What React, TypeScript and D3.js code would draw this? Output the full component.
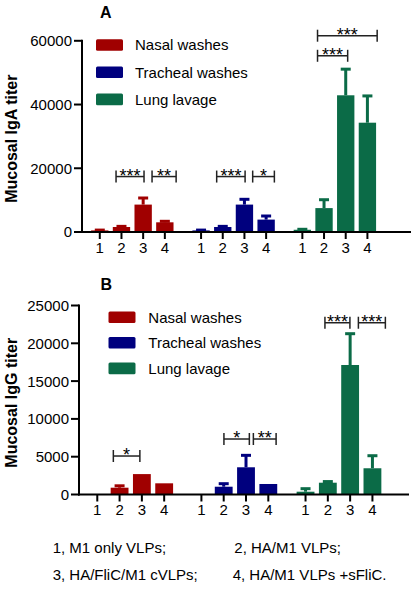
import React from "react";
import * as d3 from "d3";

const seriesNames = ["Nasal washes", "Tracheal washes", "Lung lavage"];
const seriesColors = ["#A00000", "#00007E", "#0B6B47"];
const treatments = ["1", "2", "3", "4"];

// IgA titers (mean) and upper SEM
const igaNasal = [500, 1570, 8600, 3040];
const igaNasalErr = [100, 200, 2070, 320];
const igaTracheal = [500, 1570, 8600, 3890];
const igaTrachealErr = [100, 200, 1660, 1130];
const igaLung = [700, 7500, 42900, 34300];
const igaLungErr = [150, 2630, 8200, 8400];

// IgG titers (mean) and upper SEM
const iggNasal = [0, 900, 2700, 1480];
const iggNasalErr = [0, 250, 0, 0];
const iggTracheal = [0, 1030, 3600, 1390];
const iggTrachealErr = [0, 400, 1580, 0];
const iggLung = [370, 1560, 17130, 3470];
const iggLungErr = [400, 150, 4140, 1660];

const igaTicks = [0, 20000, 40000, 60000];
const iggTicks = [0, 5000, 10000, 15000, 20000, 25000];

type Bracket = { g: number; from: number; to: number; y: number; label: string };
const igaBrackets: Bracket[] = [
  { g: 0, from: 0.75, to: 2.04, y: 17400, label: "***" },
  { g: 0, from: 2.41, to: 3.52, y: 17400, label: "**" },
  { g: 1, from: 0.72, to: 2.03, y: 17400, label: "***" },
  { g: 1, from: 2.38, to: 3.38, y: 17400, label: "*" },
  { g: 2, from: 0.7, to: 2.09, y: 55300, label: "***" },
  { g: 2, from: 0.7, to: 3.45, y: 61600, label: "***" },
];
const iggBrackets: Bracket[] = [
  { g: 0, from: 0.72, to: 1.91, y: 5090, label: "*" },
  { g: 1, from: 1.01, to: 2.15, y: 7340, label: "*" },
  { g: 1, from: 2.33, to: 3.35, y: 7340, label: "**" },
  { g: 2, from: 0.87, to: 1.99, y: 22720, label: "***" },
  { g: 2, from: 2.37, to: 3.58, y: 22720, label: "***" },
];

const footnotes = [
  "1, M1 only VLPs;",
  "2, HA/M1 VLPs;",
  "3, HA/FliC/M1 cVLPs;",
  "4, HA/M1 VLPs +sFliC.",
];

const FONT = "'Liberation Sans', Arial, Helvetica, sans-serif";
const GROUP_STRIDE = 4.67;

type PanelProps = {
  title: string;
  yLabel: string;
  values: number[][];
  errors: number[][];
  ticks: number[];
  brackets: Bracket[];
  yDomainMax: number;
  yRange: [number, number];
  xDomain: [number, number];
  xRange: [number, number];
  titlePos: [number, number];
  yLabelPos: [number, number];
  legend: { x: number; textX: number; y0: number; step: number };
};

function Panel(p: PanelProps) {
  const y = d3.scaleLinear().domain([0, p.yDomainMax]).range(p.yRange);
  const x = d3.scaleLinear().domain(p.xDomain).range(p.xRange);
  const slotW = x(1) - x(0);
  const barW = slotW * 0.8;
  const axisX = p.xRange[0];
  const axisY = p.yRange[0];
  const pos = (g: number, i: number) => x(g * GROUP_STRIDE + i);

  return (
    <g>
      <text x={p.titlePos[0]} y={p.titlePos[1]} fontFamily={FONT} fontWeight="bold" fontSize={16}>
        {p.title}
      </text>
      <text
        transform={`translate(${p.yLabelPos[0]},${p.yLabelPos[1]}) rotate(-90)`}
        textAnchor="middle"
        fontFamily={FONT}
        fontWeight="bold"
        fontSize={16}
      >
        {p.yLabel}
      </text>

      {/* bars */}
      {p.values.map((series, g) =>
        series.map((v, i) => {
          if (v <= 0) return null;
          const cx = pos(g, i);
          return (
            <rect
              key={`b${g}-${i}`}
              x={cx - barW / 2}
              y={y(v)}
              width={barW}
              height={axisY - y(v)}
              fill={seriesColors[g]}
            />
          );
        })
      )}
      {/* error bars */}
      {p.values.map((series, g) =>
        series.map((v, i) => {
          const e = p.errors[g][i];
          if (v <= 0 || e <= 0) return null;
          const cx = pos(g, i);
          return (
            <g key={`e${g}-${i}`} stroke={seriesColors[g]} strokeWidth={3}>
              <line x1={cx} x2={cx} y1={y(v)} y2={y(v + e)} />
              <line x1={cx - 5} x2={cx + 5} y1={y(v + e)} y2={y(v + e)} />
            </g>
          );
        })
      )}

      {/* axes */}
      <line x1={axisX} x2={axisX} y1={axisY + 1} y2={p.yRange[1] - 1} stroke="#000" strokeWidth={2} />
      <line x1={axisX - 1} x2={p.xRange[1]} y1={axisY} y2={axisY} stroke="#000" strokeWidth={2} />
      {p.ticks.map((t) => (
        <g key={`yt${t}`}>
          <line x1={axisX - 8} x2={axisX} y1={y(t)} y2={y(t)} stroke="#000" strokeWidth={2} />
          <text
            x={axisX - 10}
            y={y(t)}
            dy="0.36em"
            textAnchor="end"
            fontFamily={FONT}
            fontSize={15}
          >
            {t}
          </text>
        </g>
      ))}
      {p.values.map((series, g) =>
        treatments.map((lab, i) => (
          <g key={`xt${g}-${i}`}>
            <line x1={pos(g, i)} x2={pos(g, i)} y1={axisY} y2={axisY + 7} stroke="#000" strokeWidth={2} />
            <text
              x={pos(g, i)}
              y={axisY + 20.5}
              textAnchor="middle"
              fontFamily={FONT}
              fontSize={15}
            >
              {lab}
            </text>
          </g>
        ))
      )}

      {/* significance brackets */}
      {p.brackets.map((b, k) => {
        const x1 = x(b.g * GROUP_STRIDE + b.from);
        const x2 = x(b.g * GROUP_STRIDE + b.to);
        const yy = y(b.y);
        return (
          <g key={`br${k}`}>
            <g stroke="#222" strokeWidth={1.5}>
              <line x1={x1} x2={x2} y1={yy} y2={yy} />
              <line x1={x1} x2={x1} y1={yy - 6} y2={yy + 6} />
              <line x1={x2} x2={x2} y1={yy - 6} y2={yy + 6} />
            </g>
            <text
              x={(x1 + x2) / 2}
              y={yy + 5}
              textAnchor="middle"
              fontFamily={FONT}
              fontSize={18}
            >
              {b.label}
            </text>
          </g>
        );
      })}

      {/* legend */}
      {seriesNames.map((name, g) => {
        const cy = p.legend.y0 + g * p.legend.step;
        return (
          <g key={`lg${g}`}>
            <rect
              x={p.legend.x}
              y={cy - 5.8}
              width={27}
              height={11.6}
              rx={1.5}
              fill={seriesColors[g]}
            />
            <text
              x={p.legend.textX}
              y={cy}
              dy="0.36em"
              fontFamily={FONT}
              fontSize={15}
            >
              {name}
            </text>
          </g>
        );
      })}
    </g>
  );
}

export default function App() {
  return (
    <svg
      width={413}
      height={591}
      style={{ position: "absolute", left: 0, top: 0, background: "#fff" }}
    >
      <rect width={413} height={591} fill="#fff" />
      <Panel
        title="A"
        yLabel="Mucosal IgA titer"
        values={[igaNasal, igaTracheal, igaLung]}
        errors={[igaNasalErr, igaTrachealErr, igaLungErr]}
        ticks={igaTicks}
        brackets={igaBrackets}
        yDomainMax={60000}
        yRange={[232, 40.8]}
        xDomain={[-0.82, 14.35]}
        xRange={[82, 411]}
        titlePos={[100, 17.5]}
        yLabelPos={[17, 138.7]}
        legend={{ x: 96, textX: 135, y0: 45, step: 27.2 }}
      />
      <Panel
        title="B"
        yLabel="Mucosal IgG titer"
        values={[iggNasal, iggTracheal, iggLung]}
        errors={[iggNasalErr, iggTrachealErr, iggLungErr]}
        ticks={iggTicks}
        brackets={iggBrackets}
        yDomainMax={25000}
        yRange={[494.5, 305.5]}
        xDomain={[-0.82, 13.98]}
        xRange={[79, 409]}
        titlePos={[100.5, 290]}
        yLabelPos={[17, 402.8]}
        legend={{ x: 108.5, textX: 148.3, y0: 317.2, step: 25.6 }}
      />
      <g fontFamily={FONT} fontSize={15}>
        <text x={52.7} y={552.7}>{footnotes[0]}</text>
        <text x={234.3} y={552.7}>{footnotes[1]}</text>
        <text x={52.7} y={580}>{footnotes[2]}</text>
        <text x={232.7} y={580}>{footnotes[3]}</text>
      </g>
    </svg>
  );
}
